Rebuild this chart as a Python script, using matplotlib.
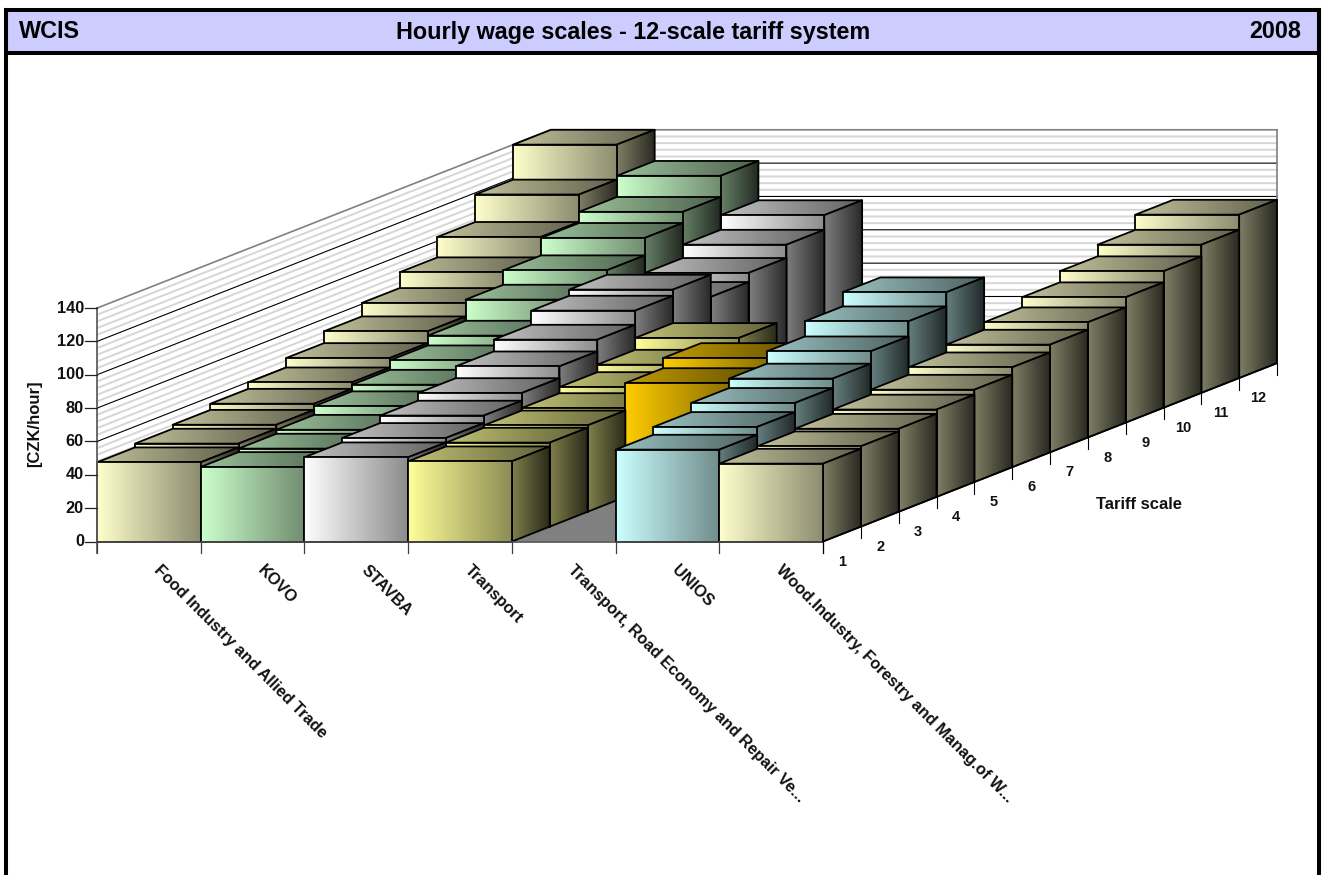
import numpy as np
import matplotlib
matplotlib.use("Agg")
import matplotlib.pyplot as plt
from matplotlib.patches import Polygon, Rectangle

plt.rcParams['font.family'] = ['Liberation Sans', 'DejaVu Sans']

N = np.nan
categories = ["Food Industry and Allied Trade", "KOVO", "STAVBA", "Transport",
              "Transport, Road Economy and Repair Ve...", "UNIOS",
              "Wood.Industry, Forestry and Manag.of W..."]
scales = list(range(1, 13))
food = [47.5, 49.8, 52.2, 55.9, 59.8, 65.5, 72.6, 80.7, 90.2, 102.5, 119.0, 140.0]
kovo = [44.7, 46.8, 49.2, 54.4, 58.4, 64.1, 70.0, 82.7, 91.4, 101.9, 108.6, 121.3]
stavba = [50.5, 53.2, 57.7, 62.3, 69.4, 76.5, 85.0, 88.7, 75.4, 80.9, 88.9, 97.7]
transport = [48.1, 50.4, 51.8, 53.3, 57.0, 61.5, 68.6, N, N, N, N, N]
road = [N, N, N, 68.3, 74.4, N, N, N, N, N, N, N]
unios = [55.1, 59.8, 65.3, 71.0, 78.4, 87.5, 96.0, N, N, N, N, N]
wood = [46.7, 48.2, 49.8, 52.4, 55.4, 59.9, 64.6, 69.1, 75.2, 81.9, 88.9, 98.0]
series = [food, kovo, stavba, transport, road, unios, wood]
base_colors = ["#FFFFCC", "#CCFFCC", "#FFFFFF", "#FFFF99", "#FFCC00", "#CCFFFF", "#FFFFCC"]
value_ticks = list(range(0, 141, 20))
minor_ticks = list(range(0, 141, 4))

# Oblique projection: pixel offsets of one category, one depth step, one value unit.
X0, Y0 = 97.0, 541.5
CAT_W = 103.72
DEPTH_X, DEPTH_Y = 37.83, 14.86
UNIT = 233.4 / 140
N_CAT, N_DEPTH = len(categories), len(scales)

# Shading ramps for each face, as factors of the series colour.
FRONT = (1.0, 0.55)
TOP = (0.76, 0.38)
SIDE = (0.50, 0.16)


def project(cat, depth, value=0.0):
    return (X0 + CAT_W * cat + DEPTH_X * depth,
            Y0 - UNIT * value - DEPTH_Y * depth)


fig = plt.figure(figsize=(13.25, 8.75), dpi=100)
ax = fig.add_axes([0, 0, 1, 1])
ax.set_xlim(0, 1325)
ax.set_ylim(875, 0)
ax.axis("off")

order = [10]


def next_z():
    order[0] += 1
    return order[0]


def shaded_face(corners, color, ramp):
    corners = np.array(corners)
    rgb = np.array(matplotlib.colors.to_rgb(color))
    t = np.linspace(ramp[0], ramp[1], 256)[None, :, None]
    z = next_z()
    outline = Polygon(corners, closed=True, facecolor="none", edgecolor="black",
                      linewidth=1.3, joinstyle="round", zorder=z + 0.5)
    ax.add_patch(outline)
    im = ax.imshow(t * rgb[None, None, :],
                   extent=(corners[:, 0].min(), corners[:, 0].max(),
                           corners[:, 1].max(), corners[:, 1].min()),
                   aspect="auto", interpolation="bilinear", zorder=z)
    im.set_clip_path(outline)


def draw_bar(cat, depth, value, color):
    a = project(cat, depth, value)
    b = project(cat + 1, depth, value)
    c = project(cat + 1, depth + 1, value)
    d = project(cat, depth + 1, value)
    e = project(cat, depth)
    f = project(cat + 1, depth)
    g = project(cat + 1, depth + 1)
    shaded_face([c, d, a, b], color, TOP)
    shaded_face([b, c, g, f], color, SIDE)
    shaded_face([a, b, f, e], color, FRONT)


# Walls and grid.
wall_gray = "#808080"
for v in minor_ticks:
    major = v in value_ticks
    if major and v != 140:
        kw = dict(color="black", lw=0.8, zorder=3)
    elif major:
        kw = dict(color=wall_gray, lw=1.2, zorder=3)
    else:
        kw = dict(color="#D6D6D6", lw=1.4, zorder=2)
    p0, p1, p2 = project(0, 0, v), project(0, N_DEPTH, v), project(N_CAT, N_DEPTH, v)
    ax.plot([p0[0], p1[0], p2[0]], [p0[1], p1[1], p2[1]], **kw)
r0, r1 = project(N_CAT, N_DEPTH, 0), project(N_CAT, N_DEPTH, 140)
ax.plot([r0[0], r1[0]], [r0[1], r1[1]], color=wall_gray, lw=1.2, zorder=3)

# Floor.
ax.add_patch(Polygon([project(0, 0), project(N_CAT, 0), project(N_CAT, N_DEPTH), project(0, N_DEPTH)],
                     closed=True, facecolor="#808080", edgecolor="none", zorder=4))

# Bars, back to front and left to right so nearer faces cover farther ones.
for depth in range(N_DEPTH - 1, -1, -1):
    for cat in range(N_CAT):
        value = series[cat][depth]
        if not np.isnan(value):
            draw_bar(cat, depth, value, base_colors[cat])

top_z = order[0] + 5
TICK = 11.5
TEXT = "#111111"

# Value axis.
y_bottom, y_top = project(0, 0, 0), project(0, 0, 140)
ax.plot([X0, X0], [y_top[1], y_bottom[1] + TICK], color="#606060", lw=1.3, zorder=top_z)
for v in value_ticks:
    _, y = project(0, 0, v)
    ax.plot([X0 - 11.6, X0], [y, y], color="#202020", lw=0.9, zorder=top_z)
    ax.text(X0 - 13, y, str(v), ha="right", va="center", fontsize=11.8,
            fontweight="bold", color=TEXT, zorder=top_z)
ax.text(35, 424, "[CZK/hour]", rotation=90, ha="center", va="center", fontsize=12,
        fontweight="bold", color=TEXT, zorder=top_z)

# Category axis.
ax.plot([X0, project(N_CAT, 0)[0]], [Y0, Y0], color="#505050", lw=1.2, zorder=top_z)
for c in range(N_CAT + 1):
    x, y = project(c, 0)
    ax.plot([x, x], [y, y + TICK], color="#404040", lw=0.9, zorder=top_z)
for c, name in enumerate(categories):
    x, y = project(c + 0.5, 0)
    ax.text(x + 7, y + 26.5, name, rotation=-45, rotation_mode="anchor", ha="left",
            va="center", fontsize=11.7, fontweight="bold", color=TEXT, zorder=top_z)

# Tariff scale axis.
d0, d1 = project(N_CAT, 0), project(N_CAT, N_DEPTH)
ax.plot([d0[0], d1[0]], [d0[1], d1[1]], color="black", lw=1.1, zorder=top_z)
for d in range(N_DEPTH + 1):
    x, y = project(N_CAT, d)
    ax.plot([x, x], [y, y + TICK], color="black", lw=0.8, zorder=top_z)
for d, s in enumerate(scales):
    x, y = project(N_CAT, d + 0.5)
    ax.text(x + 0.5, y + 27.5, str(s), ha="center", va="center", fontsize=10.5,
            fontweight="bold", color=TEXT, zorder=top_z)
ax.text(1139, 504.5, "Tariff scale", ha="center", va="center", fontsize=12,
        fontweight="bold", color=TEXT, zorder=top_z)

# Page frame and title band.
ax.add_patch(Rectangle((6, 10), 1313, 43, facecolor="#CCCCFF", edgecolor="black",
                       linewidth=2.9, zorder=top_z + 1))
ax.plot([6, 6], [10, 880], color="black", lw=2.9, zorder=top_z + 1)
ax.plot([1319, 1319], [10, 880], color="black", lw=2.9, zorder=top_z + 1)
for x, ha, s in [(18.5, "left", "WCIS"), (633, "center", "Hourly wage scales - 12-scale tariff system"),
                 (1301, "right", "2008")]:
    ax.text(x, 32, s, ha=ha, va="center", fontsize=16.8, fontweight="bold",
            color="black", zorder=top_z + 2)

ax.set_xlim(0, 1325)
ax.set_ylim(875, 0)
fig.savefig("out.png", dpi=100, facecolor="white")
